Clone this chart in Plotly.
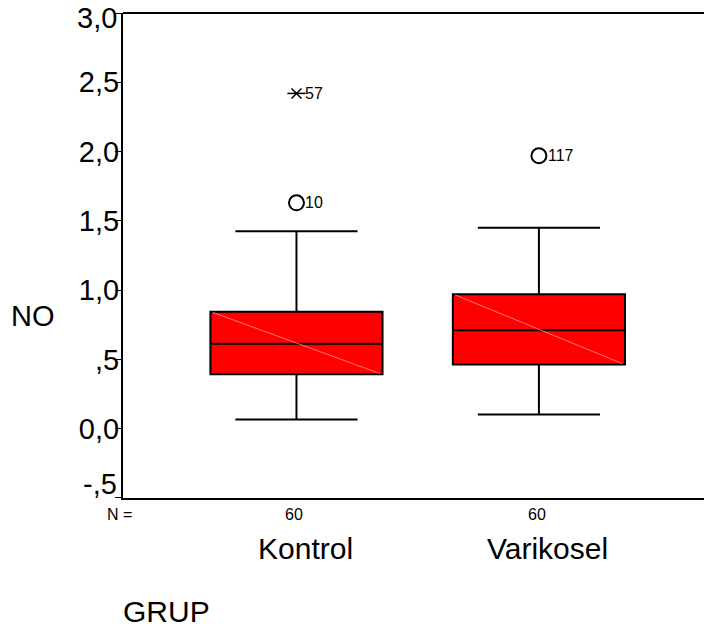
import plotly.graph_objects as go

# NO levels by group (box-plot summary statistics)
groups = ["Kontrol", "Varikosel"]
n_counts = [60, 60]
q1 = [0.392, 0.464]
median = [0.613, 0.710]
q3 = [0.844, 0.970]
lower_whisker = [0.066, 0.103]
upper_whisker = [1.425, 1.451]

# flagged cases: group index, value, case number, kind
outlier_group = [0, 0, 1]
outlier_value = [2.42, 1.63, 1.97]
outlier_case = ["57", "10", "117"]
outlier_kind = ["extreme", "outlier", "outlier"]

y_tickvals = [-0.5, 0.0, 0.5, 1.0, 1.5, 2.0, 2.5, 3.0]
y_ticktext = ["-,5", "0,0", ",5", "1,0", "1,5", "2,0", "2,5", "3,0"]

FONT = "Liberation Sans, Arial, Helvetica, sans-serif"
BOX_W = 0.71
xpos = list(range(len(groups)))

fig = go.Figure()

fig.add_trace(go.Box(
    x=xpos, q1=q1, median=median, q3=q3,
    lowerfence=lower_whisker, upperfence=upper_whisker,
    boxpoints=False, width=BOX_W, whiskerwidth=0.71,
    fillcolor="#ff0000", line=dict(color="black", width=2),
    hoverinfo="skip", showlegend=False,
))

# faint diagonal sheen across each box
for i in xpos:
    fig.add_trace(go.Scatter(
        x=[i - BOX_W / 2 + 0.01, i + BOX_W / 2 - 0.01], y=[q3[i] - 0.005, q1[i] + 0.005],
        mode="lines", line=dict(color="rgba(255,170,170,0.7)", width=1),
        hoverinfo="skip", showlegend=False,
    ))

# outliers (open circles) and extremes (asterisks)
for g, v, case, kind in zip(outlier_group, outlier_value, outlier_case, outlier_kind):
    if kind == "outlier":
        fig.add_trace(go.Scatter(
            x=[g], y=[v], mode="markers",
            marker=dict(symbol="circle-open", size=15, color="black",
                        line=dict(color="black", width=2)),
            hoverinfo="skip", showlegend=False,
        ))
    else:
        fig.add_trace(go.Scatter(
            x=[g], y=[v], mode="markers",
            marker=dict(symbol="line-ew-open", size=13, color="black",
                        line=dict(color="black", width=1.5)),
            hoverinfo="skip", showlegend=False,
        ))
        fig.add_trace(go.Scatter(
            x=[g], y=[v], mode="markers",
            marker=dict(symbol="x-thin-open", size=10, color="black",
                        line=dict(color="black", width=1.5)),
            hoverinfo="skip", showlegend=False,
        ))
    fig.add_annotation(
        x=g, y=v, xref="x", yref="y", text=case, showarrow=False,
        xanchor="left", yanchor="middle", xshift=7,
        font=dict(family=FONT, size=16, color="black"),
    )

# end tick labels are placed inside the figure edges
y_min, y_max = min(y_tickvals), max(y_tickvals)
axis_ticktext = [("" if v in (y_min, y_max) else t) for v, t in zip(y_tickvals, y_ticktext)]
low_label = y_ticktext[y_tickvals.index(y_min)]
high_label = y_ticktext[y_tickvals.index(y_max)]

annotations = []
annotations.append(dict(x=0, y=y_min, xref="paper", yref="y", text=low_label,
                        showarrow=False, xanchor="right", yanchor="bottom",
                        xshift=-4, yshift=-4,
                        font=dict(family=FONT, size=29, color="black")))
annotations.append(dict(x=0, y=1, xref="paper", yref="paper", text=high_label,
                        showarrow=False, xanchor="right", yanchor="top",
                        xshift=-4, yshift=13,
                        font=dict(family=FONT, size=29, color="black")))
# group sizes and names under the axis
for i, (name, n) in enumerate(zip(groups, n_counts)):
    annotations.append(dict(x=i, y=-0.033, xref="x", yref="paper", text=str(n),
                            showarrow=False, xanchor="center", yanchor="middle", xshift=-2,
                            font=dict(family=FONT, size=16, color="black")))
    annotations.append(dict(x=i, y=-0.105, xref="x", yref="paper", text=name,
                            showarrow=False, xanchor="center", yanchor="middle", xshift=9,
                            font=dict(family=FONT, size=30, color="black")))
annotations.append(dict(x=-0.031, y=-0.034, xref="paper", yref="paper", text="N =",
                        showarrow=False, xanchor="left", yanchor="middle",
                        font=dict(family=FONT, size=16, color="black")))
annotations.append(dict(x=-0.004, y=-0.233, xref="paper", yref="paper", text="GRUP",
                        showarrow=False, xanchor="left", yanchor="middle",
                        font=dict(family=FONT, size=30, color="black")))
annotations.append(dict(x=-0.155, y=0.375, xref="paper", yref="paper", text="NO",
                        showarrow=False, xanchor="center", yanchor="middle",
                        font=dict(family=FONT, size=29, color="black")))
for a in annotations:
    fig.add_annotation(**a)

fig.update_layout(
    width=704, height=628,
    margin=dict(l=123, r=0, t=13, b=130, autoexpand=False),
    paper_bgcolor="white", plot_bgcolor="white",
    showlegend=False,
    shapes=[dict(type="line", xref="paper", yref="paper", x0=0, x1=1, y0=1, y1=1,
                 line=dict(color="black", width=2))],
)
fig.update_xaxes(
    range=[-0.7156, 1.681], showgrid=False, zeroline=False,
    showticklabels=False, ticks="", automargin=False,
    showline=True, linecolor="black", linewidth=2,
)
fig.update_yaxes(
    range=[-0.5004, 3.0004], tickvals=y_tickvals, ticktext=axis_ticktext,
    ticks="outside", ticklen=6, tickwidth=1, tickcolor="black",
    ticklabelstandoff=-10, ticklabeloverflow="allow", automargin=False,
    tickfont=dict(family=FONT, size=29, color="black"),
    showgrid=False, zeroline=False,
    showline=True, linecolor="black", linewidth=2,
)

fig.write_html("out.html")
